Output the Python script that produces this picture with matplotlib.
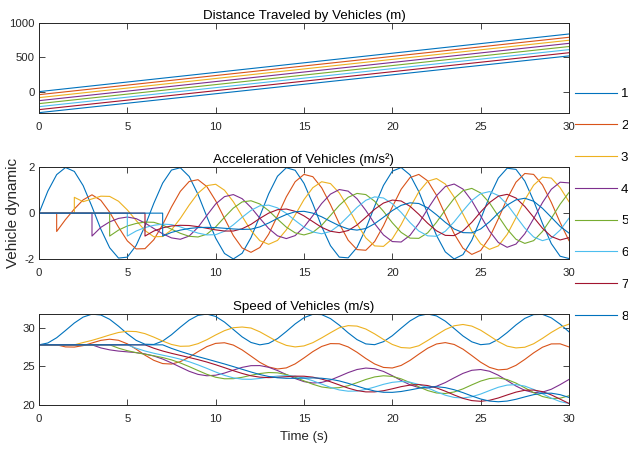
import numpy as np
import matplotlib
matplotlib.use("Agg")
import matplotlib.pyplot as plt

# time grid (s) and the time each vehicle starts reacting
t = np.linspace(0, 30, 61)
start = [0, 1, 2, 3, 4, 5, 6, 7]
names = ['1', '2', '3', '4', '5', '6', '7', '8']
colors = ['#0072BD', '#D95319', '#EDB120', '#7E2F8E', '#77AC30', '#4DBEEE', '#A2142F', '#0072BD']
v0 = 27.8

# distance (m) at t=0 and t=30
dist_start = [0, -44, -87, -131, -174, -218, -261, -305]
dist_end = [836, 788, 745, 700, 654, 609, 564, 518]

# acceleration (m/s^2), sampled every 0.5 s from each vehicle's start time
acc1 = [0, 0.96, 1.68, 1.99, 1.82, 1.20, 0.28, -0.70, -1.51, -1.96,
        -1.92, -1.41, -0.56, 0.43, 1.31, 1.88, 1.98, 1.60, 0.82, -0.15,
        -1.09, -1.76, -2.00, -1.75, -1.07, -0.13, 0.84, 1.61, 1.98, 1.87,
        1.30, 0.41, -0.58, -1.42, -1.92, -1.95, -1.50, -0.68, 0.30, 1.21,
        1.83, 1.99, 1.67, 0.94, -0.02, -0.97, -1.69, -2.00, -1.81, -1.18,
        -0.26, 0.72, 1.53, 1.96, 1.91, 1.40, 0.54, -0.45, -1.33, -1.88,
        -1.98]
acc2 = [-0.80, -0.28, 0.18, 0.58, 0.80, 0.56, 0.04, -0.61, -1.21, -1.56,
        -1.55, -1.16, -0.50, 0.27, 0.95, 1.38, 1.46, 1.16, 0.54, -0.23,
        -0.98, -1.52, -1.71, -1.50, -0.92, -0.12, 0.71, 1.37, 1.69, 1.59,
        1.11, 0.37, -0.46, -1.18, -1.59, -1.62, -1.24, -0.55, 0.27, 1.04,
        1.55, 1.69, 1.41, 0.78, -0.07, -0.90, -1.53, -1.80, -1.63, -1.07,
        -0.25, 0.63, 1.35, 1.73, 1.69, 1.23, 0.47, -0.41, -1.20]
acc3 = [0.69, 0.50, 0.62, 0.74, 0.73, 0.52, 0.14, -0.32, -0.76, -1.03,
        -1.02, -0.73, -0.23, 0.35, 0.87, 1.20, 1.26, 1.00, 0.50, -0.14,
        -0.76, -1.20, -1.36, -1.19, -0.73, -0.08, 0.59, 1.11, 1.37, 1.29,
        0.88, 0.24, -0.47, -1.08, -1.43, -1.45, -1.12, -0.50, 0.24, 0.93,
        1.39, 1.51, 1.27, 0.70, -0.04, -0.78, -1.34, -1.58, -1.43, -0.93,
        -0.20, 0.58, 1.22, 1.57, 1.53, 1.11, 0.50]
acc4 = [-1.00, -0.62, -0.38, -0.23, -0.17, -0.24, -0.43, -0.67, -0.90, -1.08,
        -1.14, -1.00, -0.62, -0.10, 0.40, 0.72, 0.81, 0.63, 0.25, -0.22,
        -0.67, -0.99, -1.11, -0.98, -0.61, -0.11, 0.42, 0.83, 1.03, 0.96,
        0.63, 0.12, -0.46, -0.95, -1.24, -1.26, -0.97, -0.45, 0.18, 0.76,
        1.16, 1.27, 1.05, 0.54, -0.12, -0.78, -1.28, -1.49, -1.35, -0.90,
        -0.24, 0.46, 1.04, 1.35, 1.32]
acc5 = [-1.00, -0.74, -0.56, -0.45, -0.39, -0.40, -0.52, -0.70, -0.88, -1.01,
        -1.04, -0.92, -0.60, -0.18, 0.22, 0.49, 0.54, 0.40, 0.11, -0.26,
        -0.61, -0.86, -0.95, -0.84, -0.53, -0.10, 0.34, 0.69, 0.86, 0.81,
        0.52, 0.08, -0.42, -0.84, -1.09, -1.10, -0.86, -0.40, 0.14, 0.64,
        0.98, 1.08, 0.88, 0.45, -0.13, -0.70, -1.14, -1.32, -1.20, -0.80,
        -0.23, 0.39, 0.90]
acc6 = [-1.00, -0.78, -0.63, -0.53, -0.48, -0.50, -0.60, -0.74, -0.87, -0.95,
        -0.94, -0.79, -0.51, -0.18, 0.12, 0.32, 0.35, 0.23, -0.01, -0.32,
        -0.61, -0.82, -0.90, -0.80, -0.52, -0.14, 0.25, 0.56, 0.71, 0.66,
        0.41, 0.03, -0.41, -0.78, -0.99, -1.01, -0.79, -0.38, 0.10, 0.55,
        0.85, 0.94, 0.77, 0.38, -0.14, -0.65, -1.04, -1.20, -1.09, -0.74,
        -0.22]
acc7 = [-1.00, -0.78, -0.64, -0.56, -0.53, -0.54, -0.59, -0.66, -0.73, -0.78,
        -0.78, -0.68, -0.49, -0.23, 0.00, 0.15, 0.18, 0.08, -0.12, -0.37,
        -0.62, -0.79, -0.85, -0.76, -0.52, -0.18, 0.17, 0.44, 0.57, 0.53,
        0.30, -0.05, -0.44, -0.77, -0.97, -0.98, -0.77, -0.40, 0.05, 0.46,
        0.74, 0.82, 0.66, 0.29, -0.18, -0.66, -1.02, -1.17, -1.07]
acc8 = [-1.00, -0.84, -0.74, -0.67, -0.63, -0.62, -0.63, -0.66, -0.69, -0.71,
        -0.70, -0.60, -0.43, -0.23, -0.06, 0.06, 0.08, 0.00, -0.16, -0.36,
        -0.55, -0.69, -0.74, -0.67, -0.46, -0.18, 0.11, 0.34, 0.45, 0.42,
        0.23, -0.07, -0.40, -0.69, -0.85, -0.86, -0.69, -0.38, 0.00, 0.35,
        0.58, 0.65, 0.52, 0.21, -0.18, -0.58, -0.87]

# speed (m/s), sampled every 0.5 s from each vehicle's start time
spd1 = [27.80, 28.04, 28.72, 29.66, 30.63, 31.40, 31.78, 31.67, 31.11, 30.22,
        29.23, 28.38, 27.88, 27.85, 28.29, 29.11, 30.09, 31.00, 31.62, 31.79,
        31.48, 30.75, 29.79, 28.83, 28.11, 27.80, 27.99, 28.61, 29.53, 30.51,
        31.32, 31.76, 31.72, 31.20, 30.35, 29.36, 28.48, 27.92, 27.82, 28.21,
        28.98, 29.96, 30.90, 31.56, 31.80, 31.55, 30.87, 29.92, 28.95, 28.19,
        27.82, 27.93, 28.51, 29.39, 30.38, 31.23, 31.72, 31.75, 31.30, 30.48,
        29.49]
spd2 = [27.80, 27.53, 27.51, 27.70, 28.04, 28.38, 28.53, 28.39, 27.93, 27.24,
        26.46, 25.79, 25.37, 25.31, 25.62, 26.20, 26.91, 27.57, 27.99, 28.07,
        27.77, 27.14, 26.34, 25.53, 24.93, 24.67, 24.81, 25.33, 26.10, 26.92,
        27.59, 27.96, 27.94, 27.53, 26.84, 26.03, 25.32, 24.87, 24.80, 25.13,
        25.78, 26.59, 27.36, 27.91, 28.09, 27.85, 27.24, 26.41, 25.55, 24.88,
        24.55, 24.64, 25.14, 25.91, 26.76, 27.49, 27.92, 27.93, 27.53]
spd3 = [27.80, 28.10, 28.38, 28.72, 29.08, 29.40, 29.56, 29.52, 29.25, 28.80,
        28.29, 27.85, 27.61, 27.64, 27.95, 28.46, 29.08, 29.64, 30.02, 30.11,
        29.98, 29.49, 28.85, 28.21, 27.73, 27.53, 27.66, 28.08, 28.70, 29.37,
        30.01, 30.29, 30.23, 29.85, 29.22, 28.50, 27.85, 27.45, 27.38, 27.68,
        28.36, 29.08, 29.78, 30.27, 30.44, 30.23, 29.70, 28.97, 28.22, 27.63,
        27.40, 27.49, 27.94, 28.64, 29.41, 30.07, 30.48]
spd4 = [27.80, 27.40, 27.15, 26.99, 26.89, 26.79, 26.62, 26.35, 25.96, 25.46,
        24.91, 24.37, 23.97, 23.79, 23.86, 24.14, 24.52, 24.88, 25.10, 25.11,
        24.89, 24.47, 23.95, 23.43, 23.03, 22.85, 22.93, 23.24, 23.71, 24.20,
        24.60, 24.79, 24.70, 24.35, 23.80, 23.18, 22.62, 22.26, 22.20, 22.43,
        22.91, 23.52, 24.10, 24.50, 24.60, 24.38, 23.86, 23.17, 22.46, 21.90,
        21.61, 21.67, 22.04, 22.64, 23.31]
spd5 = [27.80, 27.37, 27.04, 26.79, 26.58, 26.38, 26.15, 25.85, 25.45, 24.98,
        24.47, 23.98, 23.60, 23.40, 23.41, 23.59, 23.85, 24.08, 24.21, 24.17,
        23.95, 23.59, 23.13, 22.69, 22.34, 22.19, 22.25, 22.50, 22.89, 23.31,
        23.64, 23.79, 23.71, 23.39, 22.91, 22.36, 21.87, 21.56, 21.49, 21.69,
        22.09, 22.61, 23.10, 23.43, 23.51, 23.30, 22.84, 22.23, 21.60, 21.10,
        20.84, 20.88, 21.20]
spd6 = [27.80, 27.36, 27.00, 26.71, 26.46, 26.22, 25.94, 25.61, 25.20, 24.75,
        24.28, 23.84, 23.52, 23.35, 23.33, 23.44, 23.61, 23.75, 23.81, 23.73,
        23.49, 23.14, 22.71, 22.28, 21.95, 21.79, 21.81, 22.02, 22.33, 22.68,
        22.94, 23.05, 22.96, 22.66, 22.22, 21.72, 21.27, 20.98, 20.91, 21.07,
        21.42, 21.87, 22.30, 22.58, 22.64, 22.45, 22.02, 21.46, 20.89, 20.44,
        20.20]
spd7 = [27.80, 27.36, 27.00, 26.70, 26.43, 26.16, 25.88, 25.57, 25.22, 24.84,
        24.45, 24.09, 23.79, 23.61, 23.55, 23.59, 23.67, 23.74, 23.73, 23.61,
        23.36, 23.01, 22.60, 22.19, 21.87, 21.70, 21.70, 21.85, 22.10, 22.38,
        22.58, 22.65, 22.52, 22.22, 21.79, 21.30, 20.86, 20.57, 20.48, 20.61,
        20.91, 21.30, 21.67, 21.91, 21.94, 21.73, 21.31, 20.76, 20.20]
spd8 = [27.80, 27.34, 26.95, 26.59, 26.27, 25.96, 25.64, 25.32, 24.98, 24.63,
        24.28, 23.95, 23.70, 23.53, 23.46, 23.46, 23.49, 23.51, 23.47, 23.34,
        23.12, 22.81, 22.45, 22.10, 21.81, 21.65, 21.64, 21.75, 21.95, 22.17,
        22.33, 22.37, 22.25, 21.98, 21.60, 21.17, 20.78, 20.51, 20.42, 20.51,
        20.74, 21.05, 21.34, 21.52, 21.53, 21.34, 20.98]

acc = [acc1, acc2, acc3, acc4, acc5, acc6, acc7, acc8]
spd = [spd1, spd2, spd3, spd4, spd5, spd6, spd7, spd8]

plt.rcParams['font.family'] = ['Liberation Sans', 'DejaVu Sans']
plt.rcParams['axes.unicode_minus'] = False
txt = '#262626'

fig = plt.figure(figsize=(6.28, 4.49), dpi=100)
ax_d = fig.add_axes([0.0621, 0.7480, 0.8439, 0.2015])
ax_a = fig.add_axes([0.0621, 0.4232, 0.8439, 0.2042])
ax_s = fig.add_axes([0.0621, 0.0980, 0.8439, 0.2027])

handles = []
for i in range(8):
    tt = t[t >= start[i]]
    h, = ax_d.plot([0, 30], [dist_start[i], dist_end[i]], color=colors[i], lw=0.8)
    handles.append(h)
    ax_a.plot(np.r_[0, start[i], tt], np.r_[0, 0, acc[i]], color=colors[i], lw=0.8)
    ax_s.plot(np.r_[0, tt], np.r_[v0, spd[i]], color=colors[i], lw=0.8)

ax_d.set_ylim(-312, 1000)
ax_d.set_yticks([0, 500, 1000])
ax_a.set_ylim(-2, 2)
ax_a.set_yticks([-2, 0, 2])
ax_s.set_ylim(20, 31.8)
ax_s.set_yticks([20, 25, 30])

titles = ['Distance Traveled by Vehicles (m)', 'Acceleration of Vehicles (m/s\u00b2)',
          'Speed of Vehicles (m/s)']
for ax, title in zip([ax_d, ax_a, ax_s], titles):
    ax.set_xlim(0, 30)
    ax.set_xticks([0, 5, 10, 15, 20, 25, 30])
    ax.tick_params(direction='in', top=True, right=True, length=4, width=0.6,
                   labelsize=8.2, colors=txt)
    ax.tick_params(axis='x', pad=6.5)
    ax.tick_params(axis='y', pad=3)
    for sp in ax.spines.values():
        sp.set_color(txt)
        sp.set_linewidth(0.7)
    ax.set_title(title, fontsize=9.6, color='black', pad=3)

ax_a.set_ylabel('Vehicle dynamic', fontsize=11, color=txt)
ax_a.yaxis.set_label_coords(-0.036, 0.5)
ax_s.set_xlabel('Time (s)', fontsize=9.5, color=txt)
ax_s.xaxis.set_label_coords(0.5, -0.29)

fig.legend(handles, names, loc='upper left', bbox_to_anchor=(0.9156, 0.8040),
           frameon=False, fontsize=9.5, handlelength=3.18, handletextpad=0.3,
           labelspacing=1.48, borderpad=0, borderaxespad=0)

fig.savefig('out.png', dpi=100)
